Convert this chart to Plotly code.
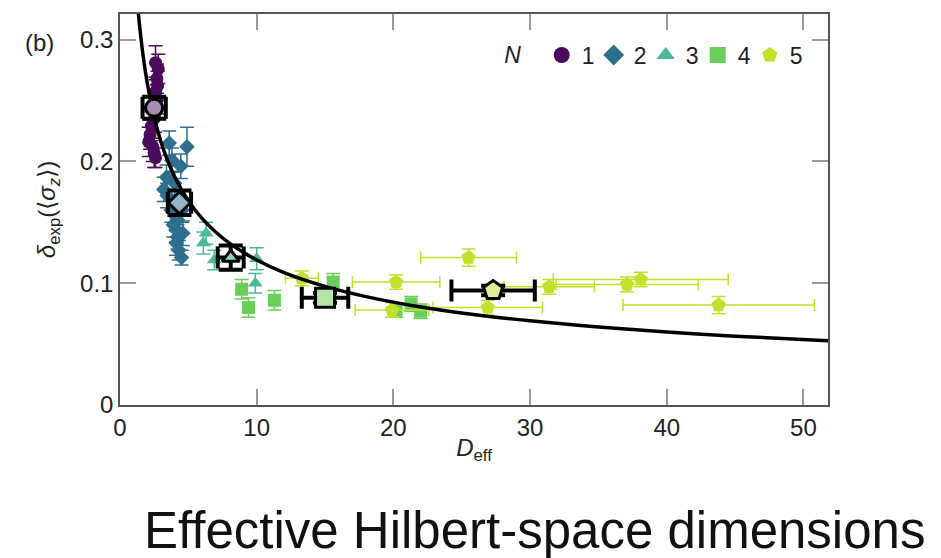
import plotly.graph_objects as go

# ---------------- data ----------------
N1_D = [2.6, 2.8, 2.7, 2.75, 2.6, 2.7, 2.55, 2.3, 2.2, 2.1, 2.4, 2.5, 2.6]
N1_d = [0.281, 0.276, 0.268, 0.262, 0.257, 0.251, 0.236, 0.229, 0.222, 0.216, 0.212, 0.207, 0.203]
N1_e = [0.014, 0.012, 0.012, 0.012, 0.012, 0.012, 0.012, 0.012, 0.012, 0.012, 0.012, 0.012, 0.008]

N2_D = [3.6, 4.9, 3.8, 4.45, 3.4, 4.0, 3.2, 3.45, 3.75, 4.55, 4.2, 4.1, 4.2, 4.1, 4.3, 4.5, 3.9, 4.6]
N2_d = [0.215, 0.212, 0.201, 0.196, 0.187, 0.182, 0.177, 0.172, 0.160, 0.160, 0.152, 0.144, 0.138, 0.133, 0.127, 0.121, 0.148, 0.141]
N2_e = [0.010, 0.016, 0.010, 0.010, 0.010, 0.010, 0.010, 0.010, 0.010, 0.010, 0.010, 0.010, 0.010, 0.010, 0.008, 0.006, 0.010, 0.010]

N3_D = [6.3, 6.1, 6.9, 10.0, 9.9]
N3_d = [0.141, 0.133, 0.119, 0.120, 0.100]
N3_e = [0.009, 0.009, 0.008, 0.009, 0.008]

N4_D = [8.9, 9.4, 11.3, 15.6, 20.2, 21.3, 22.0]
N4_d = [0.095, 0.080, 0.086, 0.101, 0.078, 0.083, 0.077]
N4_e = [0.008, 0.008, 0.008, 0.007, 0.006, 0.006, 0.006]

N5_D = [13.3, 20.2, 19.9, 25.5, 26.9, 31.4, 37.1, 38.1, 43.8]
N5_d = [0.104, 0.101, 0.078, 0.121, 0.080, 0.097, 0.099, 0.103, 0.082]
N5_xe = [1.2, 3.2, 2.7, 3.5, 4.0, 3.3, 5.2, 6.4, 7.0]
N5_ye = [0.006, 0.006, 0.006, 0.007, 0.006, 0.006, 0.006, 0.006, 0.007]

MEAN_D = [2.5, 4.35, 8.1, 15.0, 27.3]
MEAN_d = [0.244, 0.166, 0.121, 0.088, 0.094]
MEAN_xe = [0.85, 0.85, 0.95, 1.7, 3.05]
MEAN_ye = [0.009, 0.010, 0.010, 0.004, 0.004]

CURVE_D = [1.3, 1.5, 1.75, 2.0, 2.5, 3.0, 3.5, 4.0, 5.0, 6.0, 7.0, 8.0, 10, 12, 15, 18, 22, 26, 30, 35, 40, 45, 51.8]
CURVE_d = [0.3267, 0.3043, 0.2820, 0.2640, 0.2364, 0.2160, 0.2001, 0.1873, 0.1677, 0.1532, 0.1420, 0.1329,
           0.1190, 0.1087, 0.0974, 0.0890, 0.0805, 0.0741, 0.0691, 0.0640, 0.0599, 0.0565, 0.0527]

LEGEND_LABELS = ["1", "2", "3", "4", "5"]
X_TICKS = [0, 10, 20, 30, 40, 50]
Y_TICKS = [0, 0.1, 0.2, 0.3]
Y_TICKTEXT = ["0", "0.1", "0.2", "0.3"]

# ---------------- styles ----------------
COLORS = ["#4b0a5b", "#2e6e8e", "#4bb89b", "#6cce5a", "#c3e02b"]
MEAN_FILL = ["#a68bb6", "#90b4c8", "#8fd4c0", "#b6e6a6", "#e1ee92"]
SYMBOLS = ["circle", "diamond", "triangle-up", "square", "pentagon"]
SIZES = [13, 12, 13, 13, 15]
MEAN_SIZES = [17, 17, 15, 19, 20]
FONT = "Liberation Sans, Arial, sans-serif"

fig = go.Figure()

groups = [
    (N1_D, N1_d, None, N1_e),
    (N2_D, N2_d, None, N2_e),
    (N3_D, N3_d, None, N3_e),
    (N4_D, N4_d, None, N4_e),
    (N5_D, N5_d, N5_xe, N5_ye),
]

for i, (xs, ys, xe, ye) in enumerate(groups):
    tr = dict(
        x=xs, y=ys, mode="markers", showlegend=False,
        marker=dict(symbol=SYMBOLS[i], size=SIZES[i], color=COLORS[i], line=dict(width=0)),
        error_y=dict(type="data", array=ye, color=COLORS[i], thickness=1.5, width=7),
    )
    if xe is not None:
        tr["error_x"] = dict(type="data", array=xe, color=COLORS[i], thickness=1.5, width=6)
    fig.add_trace(go.Scatter(**tr))

# theory curve
fig.add_trace(go.Scatter(x=CURVE_D, y=CURVE_d, mode="lines", line=dict(color="black", width=3.5, shape="spline"),
                         showlegend=False, hoverinfo="skip"))

# mean markers
for i in range(5):
    fig.add_trace(go.Scatter(
        x=[MEAN_D[i]], y=[MEAN_d[i]], mode="markers", showlegend=False,
        marker=dict(symbol=SYMBOLS[i], size=MEAN_SIZES[i], color=MEAN_FILL[i], line=dict(color="black", width=3)),
        error_x=dict(type="data", array=[MEAN_xe[i]], color="black", thickness=4, width=11),
        error_y=dict(type="data", array=[MEAN_ye[i]], color="black", thickness=4, width=12),
    ))

# legend-only traces
for i in range(5):
    fig.add_trace(go.Scatter(
        x=[None], y=[None], mode="markers", name=LEGEND_LABELS[i],
        marker=dict(symbol=SYMBOLS[i], size=16, color=COLORS[i]),
    ))

axis_common = dict(
    showline=True, linecolor="#555555", linewidth=1.5, mirror="allticks",
    ticks="inside", ticklen=16, tickwidth=1.5, tickcolor="#9a9a9a",
    showgrid=False, zeroline=False,
    tickfont=dict(family=FONT, size=24, color="#222222"),
)

fig.update_layout(
    width=941, height=558,
    margin=dict(l=120, r=113, t=14, b=153, autoexpand=False),
    paper_bgcolor="white", plot_bgcolor="white",
    font=dict(family=FONT, color="#222222"),
    xaxis=dict(range=[0, 51.8], tickvals=X_TICKS, automargin=False, **axis_common,
               title=dict(text="<i>D</i><sub>eff</sub>", font=dict(family=FONT, size=24), standoff=0)),
    yaxis=dict(range=[0, 0.321], tickvals=Y_TICKS, ticktext=Y_TICKTEXT, automargin=False, **axis_common,
               title=dict(text="<i>δ</i><sub>exp</sub>(⟨<i>σ<sub>z</sub></i>⟩)", font=dict(family=FONT, size=24), standoff=18)),
    legend=dict(
        orientation="h", x=0.54, xanchor="left", y=0.895, yanchor="middle",
        bgcolor="rgba(0,0,0,0)", font=dict(family=FONT, size=23, color="#222222"),
        title=dict(text="<i>N</i>  ", font=dict(family=FONT, size=23), side="left"),
        entrywidth=7, entrywidthmode="pixels", itemwidth=30, tracegroupgap=0,
    ),
    annotations=[
        dict(text="(b)", xref="paper", yref="paper", x=-0.114, y=0.928, xanchor="center", yanchor="middle",
             showarrow=False, font=dict(family=FONT, size=24, color="#222222")),
        dict(text="Effective Hilbert-space dimensions", xref="paper", yref="paper",
             x=0.0304, y=-0.322, xanchor="left", yanchor="middle", showarrow=False,
             font=dict(family=FONT, size=51, color="#111111")),
    ],
)

fig.write_html("out.html")
